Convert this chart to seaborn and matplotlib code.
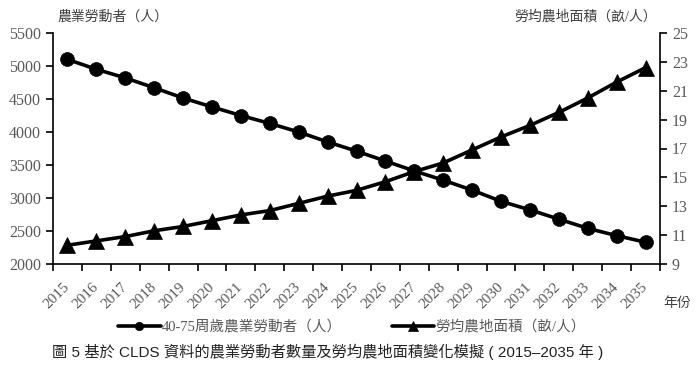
import numpy as np
import pandas as pd
import matplotlib
matplotlib.use("Agg")
import matplotlib.pyplot as plt
import seaborn as sns

# ---- data ----
years = [str(y) for y in range(2015, 2036)]
workers = [5100, 4950, 4820, 4670, 4515, 4380, 4250, 4130, 4000, 3850, 3710,
           3560, 3410, 3270, 3120, 2950, 2820, 2680, 2540, 2430, 2330]
land_per_worker = [10.3, 10.6, 10.9, 11.3, 11.6, 12.0, 12.4, 12.7, 13.2, 13.7, 14.1,
                   14.7, 15.4, 16.0, 16.9, 17.8, 18.6, 19.5, 20.5, 21.6, 22.6]
left_ticks = [2000, 2500, 3000, 3500, 4000, 4500, 5000, 5500]
right_ticks = [9, 11, 13, 15, 17, 19, 21, 23, 25]
left_title = "農業勞動者（人）"
right_title = "勞均農地面積（畝/人）"
x_title = "年份"
label_workers = "40-75周歲農業勞動者（人）"
label_land = "勞均農地面積（畝/人）"
caption = "圖 5 基於 CLDS 資料的農業勞動者數量及勞均農地面積變化模擬 ( 2015–2035 年 )"

sns.set_style("ticks")
plt.rcParams['font.family'] = ['Liberation Serif', 'Noto Sans CJK TC', 'DejaVu Sans']

df = pd.DataFrame({"pos": np.arange(len(years)), "workers": workers, "land": land_per_worker})

gray = "#595959"
fig = plt.figure(figsize=(7, 3.72), dpi=100)
ax = fig.add_axes([53/700, 1-264/372, 607/700, 231/372])
ax2 = ax.twinx()

sns.lineplot(data=df, x="pos", y="workers", ax=ax, color="black", linewidth=2.6,
             marker="o", markersize=10, markeredgecolor="black", markeredgewidth=0.5)
sns.lineplot(data=df, x="pos", y="land", ax=ax2, color="black", linewidth=2.6,
             marker="^", markersize=11, markeredgecolor="black", markeredgewidth=0.5)

ax.set_xlim(-0.5, len(years) - 0.5)
ax.set_ylim(left_ticks[0], left_ticks[-1])
ax2.set_ylim(right_ticks[0], right_ticks[-1])
ax.set_yticks(left_ticks)
ax2.set_yticks(right_ticks)
ax.set_xticks(np.arange(len(years)))
ax.set_xticklabels(years, rotation=45, ha="right", va="center", rotation_mode="anchor")
ax.set_xticks(np.arange(-0.5, len(years), 1), minor=True)
ax.tick_params(axis="x", which="major", length=0, pad=15, labelsize=11, labelcolor=gray)
ax.tick_params(axis="x", which="minor", length=5, width=1.2, direction="out", color="black")
ax.tick_params(axis="y", length=5, width=1.2, labelsize=11.5, labelcolor=gray, color="black")
ax2.tick_params(axis="y", length=5, width=1.2, labelsize=11.5, labelcolor=gray, color="black")
ax.set_xlabel("")
ax.set_ylabel("")
ax2.set_ylabel("")
for a in (ax, ax2):
    a.spines["top"].set_visible(False)
    for s in ("left", "right", "bottom"):
        a.spines[s].set_linewidth(1.2)
        a.spines[s].set_color("black")
ax.spines["right"].set_visible(False)
ax2.spines["left"].set_visible(False)
ax2.spines["bottom"].set_visible(False)

fig.text(57/700, 1-17/372, left_title, ha="left", va="center", fontsize=10, color="#404040")
fig.text(657/700, 1-17/372, right_title, ha="right", va="center", fontsize=10, color="#404040")
fig.text(677/700, 1-304/372, x_title, ha="center", va="center", fontsize=10, color="#404040")

h1 = ax.lines[0]
h2 = ax2.lines[0]
fig.legend([h1, h2], [label_workers, label_land], loc="center",
           bbox_to_anchor=(352/700, 1-327/372), ncol=2, frameon=False,
           fontsize=10.5, labelcolor=gray, handlelength=2.9, handletextpad=0.1,
           columnspacing=3.4, markerscale=0.6)

fig.text((47+608)/2/700, 1-352/372, caption, ha="center", va="center", fontsize=11,
         color="#222222", family=["Liberation Sans", "Noto Sans CJK TC", "DejaVu Sans"])

fig.savefig("out.png", dpi=100, facecolor="white")
